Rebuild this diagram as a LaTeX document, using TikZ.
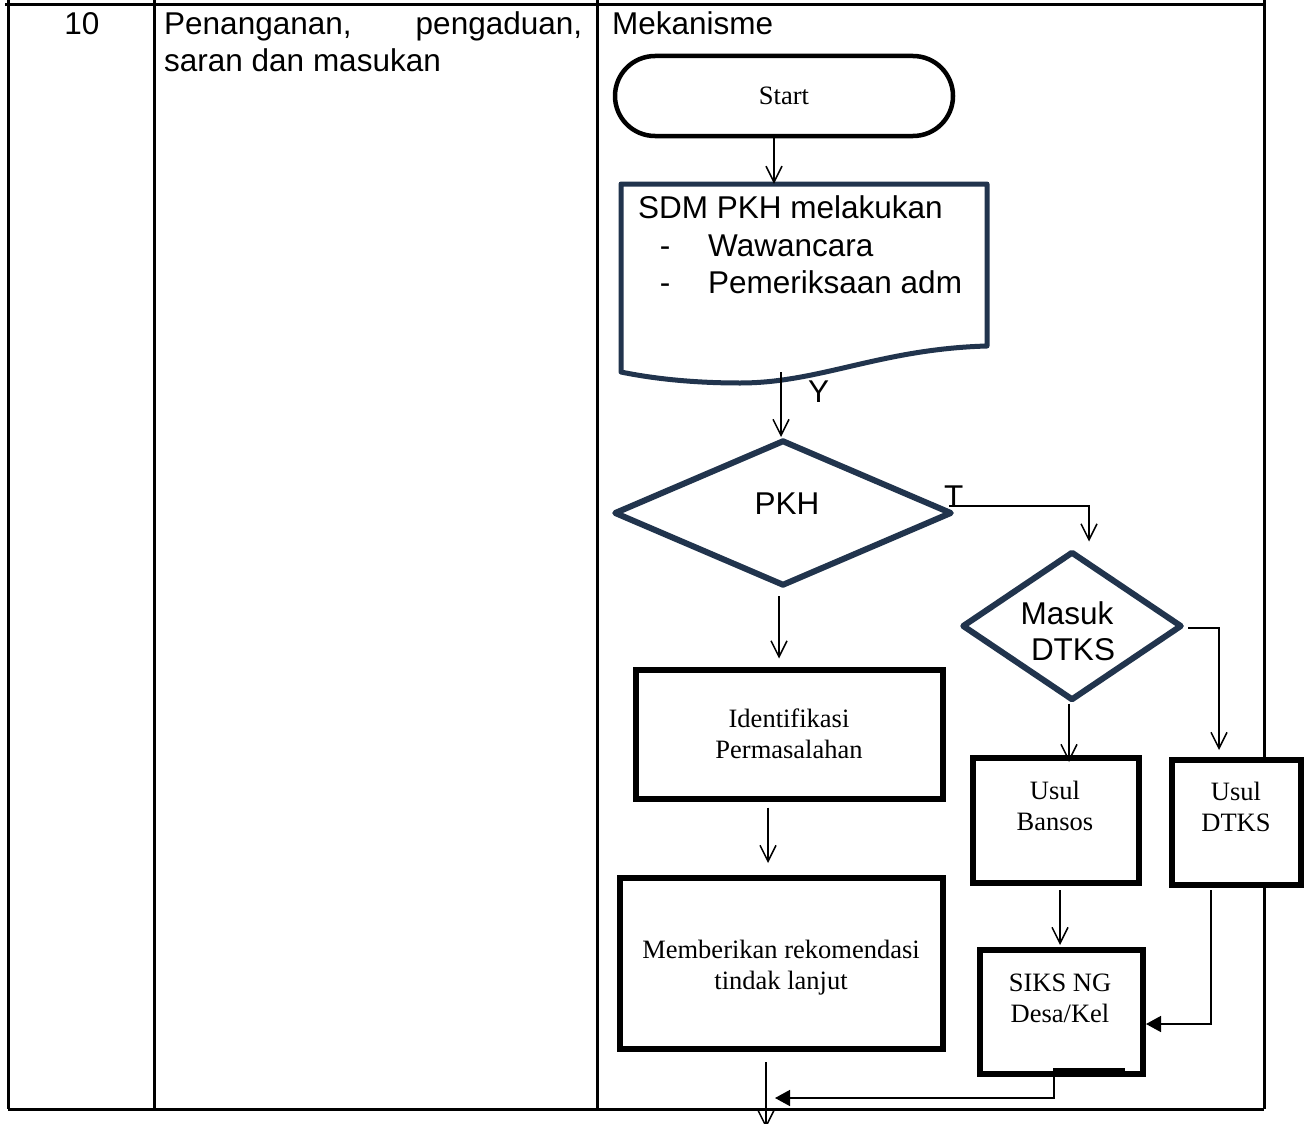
\documentclass[tikz,border=0pt]{standalone}
\usepackage{fontspec}
\setmainfont{Liberation Serif}
\newfontfamily\arialN{Liberation Sans}
\usetikzlibrary{arrows.meta,shapes.geometric,shapes.misc,calc}
\definecolor{navy}{RGB}{33,52,77}
\begin{document}
\begin{tikzpicture}[x=1pt,y=-1pt,
  tline/.style={line width=3pt, black},
  boxx/.style={draw=black, line width=6pt, fill=white, inner sep=0pt, rectangle},
  dia/.style={draw=navy, line width=6pt, line join=round, diamond, inner sep=0pt},
  conn/.style={line width=1.5pt, -{Straight Barb[length=16pt,width=16pt,line width=1.5pt]}},
  fconn/.style={line width=1.5pt, -{Triangle[length=15pt,width=16pt]}},
  sertext/.style={font=\fontsize{26.5}{31}\selectfont, align=center, inner sep=0pt},
  artext/.style={font=\arialN\fontsize{31.5}{37}\selectfont, inner sep=0pt},
  dtext/.style={font=\arialN\fontsize{31.5}{37}\selectfont, inner sep=0pt},
]
\useasboundingbox (0,0) rectangle (1312,1124);
\fill[white] (0,0) rectangle (1312,1124);

% table
\draw[tline] (5,5) -- (1264,5);
\draw[tline] (8,0) -- (8,1109);
\draw[tline] (154,0) -- (154,1109);
\draw[tline] (597,0) -- (597,1109);
\draw[tline] (1264,0) -- (1264,1109);
\draw[tline] (8,1109) -- (1264,1109);

% lanes
\coordinate (xa) at (774,0);
\coordinate (xb) at (781,0);
\coordinate (xc) at (1089,0);
\coordinate (xd) at (779,0);
\coordinate (xe) at (768,0);
\coordinate (xf) at (766,0);
\coordinate (xg) at (1219,0);
\coordinate (xh) at (1069,0);
\coordinate (xi) at (1060,0);
\coordinate (xj) at (1211,0);
\coordinate (xk) at (1054,0);
\coordinate (m1) at (775,1098);
\coordinate (endp) at (766,1128);

% shapes
\node[draw=black, rounded rectangle, line width=4.5pt, minimum width=338, minimum height=80, inner sep=0pt, font=\fontsize{26.5}{31}\selectfont] (start) at (784,96) {Start};

\draw[navy, line width=5pt, line join=round, fill=white] (621,184) -- (987,184) -- (987,346)
  .. controls (880,349) and (820,383) .. (740,383)
  .. controls (690,383) and (650,378) .. (621,372) -- cycle;
\node[inner sep=0pt, minimum width=366, minimum height=188] (sdm) at (804,278) {};

\node[dia, minimum width=338, minimum height=146] (pkh) at (783,513) {};
\node[dia, minimum width=220, minimum height=149] (dtks) at (1072,626) {};

\node[boxx, minimum width=307, minimum height=129] (iden) at (789,734) {};
\node[boxx, minimum width=323, minimum height=171] (memb) at (781.5,963.5) {};
\node[boxx, minimum width=166, minimum height=125] (bansos) at (1056,820.5) {};
\node[boxx, minimum width=129, minimum height=125] (udtks) at (1236.5,822.5) {};
\node[boxx, minimum width=163, minimum height=124] (siks) at (1061.5,1012) {};
\draw[line width=5pt] (1053,1070) -- (1125,1070);

% connectors
\draw[conn] (start.south -| xa) -- (sdm.north -| xa);
\draw[conn] (sdm.south -| xb) -- (pkh.north -| xb);
\draw[conn] ($(pkh.east)+(-6,-7)$) -| ($(dtks.north -| xc)+(0,-7)$);
\draw[conn] ($(pkh.south -| xd)+(0,7)$) -- ($(iden.north -| xd)+(0,-8)$);
\draw[conn] ($(iden.south -| xe)+(0,6)$) -- ($(memb.north -| xe)+(0,-12)$);
\draw[conn] ($(memb.south -| xf)+(0,10)$) -- (endp);
\draw[conn] ($(dtks.east)+(3,2)$) -| ($(udtks.north -| xg)+(0,-7)$);
\draw[conn] (dtks.south -| xh) -- ($(bansos.north -| xh)+(0,7)$);
\draw[conn] ($(bansos.south -| xi)+(0,4)$) -- ($(siks.north -| xi)+(0,-2)$);
\draw[fconn] ($(udtks.south -| xj)+(0,2)$) |- ($(siks.east)+(0,12)$);
\draw[fconn] (siks.south -| xk) |- (m1);

% texts
\node[artext, anchor=base] (num) at (82,35) {10};
\node[artext, anchor=base west] (item1) at (164,35) {\makebox[418pt][l]{Penanganan,\hfill pengaduan,}};
\node[artext, anchor=base west] (item2) at (164,71) {saran dan masukan};
\node[artext, anchor=base west] (mek) at (612,35) {Mekanisme};

\node[artext, anchor=base west] (s1) at (638,218) {SDM PKH melakukan};
\node[artext, anchor=base] (d1) at (665,256) {-};
\node[artext, anchor=base west] (s2) at (708,256) {Wawancara};
\node[artext, anchor=base] (d2) at (665,293) {-};
\node[artext, anchor=base west] (s3) at (708,293) {Pemeriksaan adm};

\node[artext, anchor=base west] (ylab) at (808,402) {Y};
\node[artext, anchor=base west] (tlab) at (944,507) {T};

\node[dtext, anchor=base] (pkht) at (787,514) {PKH};
\node[dtext, anchor=base] (mt1) at (1067,624) {Masuk};
\node[dtext, anchor=base] (mt2) at (1073,660) {DTKS};

\node[sertext] (idt) at (789,734) {Identifikasi\\Permasalahan};
\node[sertext] (mbt) at (781,968) {Memberikan rekomendasi\\tindak lanjut};
\node[sertext] (bst) at (1055,806) {Usul\\Bansos};
\node[sertext] (udt) at (1236,807) {Usul\\DTKS};
\node[sertext] (skt) at (1060,998) {SIKS NG\\Desa/Kel};
\end{tikzpicture}
\end{document}
